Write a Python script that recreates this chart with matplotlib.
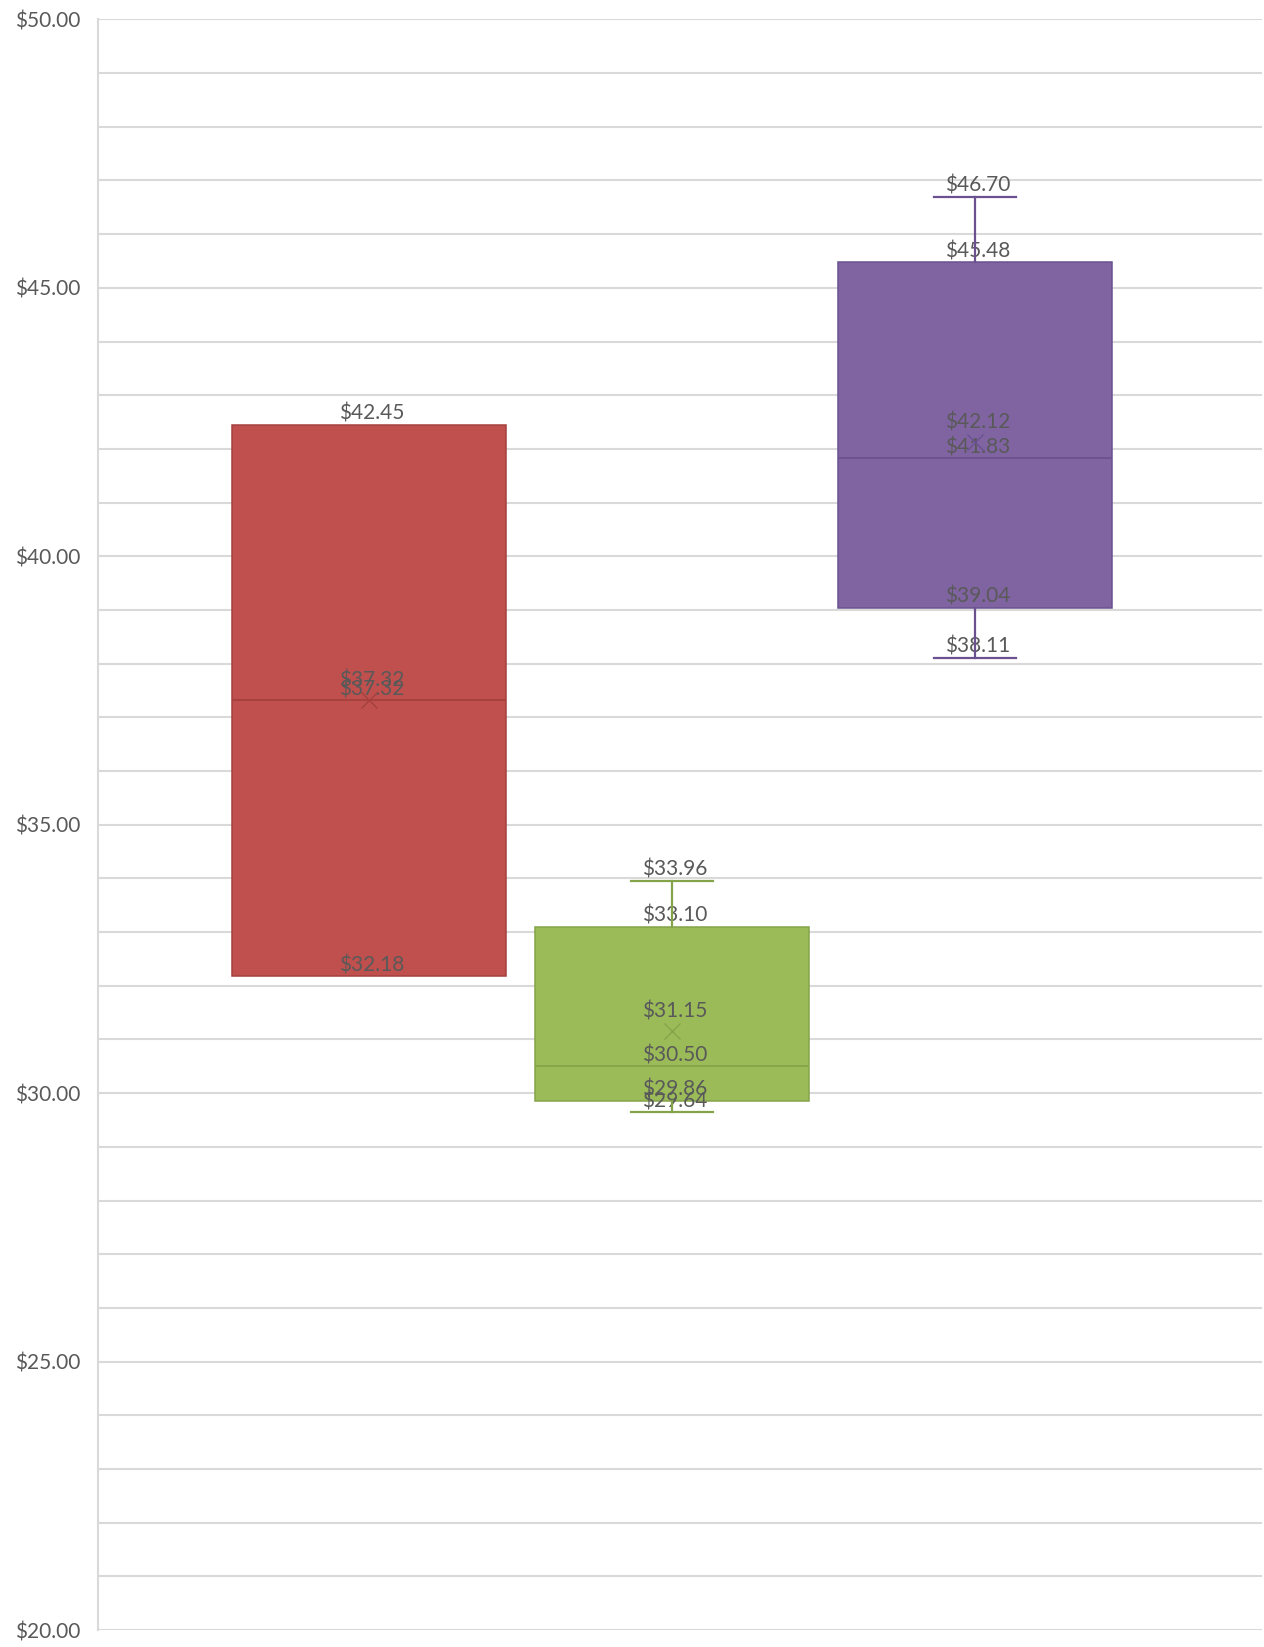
import numpy as np
from matplotlib import pyplot as plt
from matplotlib.ticker import MultipleLocator, FuncFormatter

## data
seriesNames = ['Series 1', 'Series 2', 'Series 3']
minVals = [32.18, 29.64, 38.11]
q1Vals = [32.18, 29.86, 39.04]
medVals = [37.32, 30.50, 41.83]
q3Vals = [42.45, 33.10, 45.48]
maxVals = [42.45, 33.96, 46.70]
meanVals = [37.32, 31.15, 42.12]

fillColors = ['#C0504D', '#9BBB59', '#8064A2']
edgeColors = ['#A5403D', '#85A34A', '#6B5190']
textColor = '#595959'

plt.rcParams['font.family'] = ['Lato', 'DejaVu Sans']

## figure
fig = plt.figure(figsize=(12.64, 16.47), dpi=100)
ax = fig.add_axes([0.0775, 0.0103, 0.9209, 0.9779])

positions = np.arange(len(seriesNames))
boxWidth = 0.904
capWidth = 0.27

stats = []
for ind in range(len(seriesNames)):
    stats.append(dict(label=seriesNames[ind], whislo=minVals[ind], q1=q1Vals[ind],
                      med=medVals[ind], q3=q3Vals[ind], whishi=maxVals[ind],
                      mean=meanVals[ind]))

for ind in range(len(seriesNames)):
    parts = ax.bxp([stats[ind]], positions=[positions[ind]], widths=boxWidth,
                   patch_artist=True, showmeans=True, showfliers=False,
                   capwidths=capWidth,
                   boxprops=dict(facecolor=fillColors[ind], edgecolor=edgeColors[ind],
                                 linewidth=1.1, zorder=2),
                   medianprops=dict(color=edgeColors[ind], linewidth=1.3, zorder=3),
                   whiskerprops=dict(color=edgeColors[ind], linewidth=1.6, zorder=4),
                   capprops=dict(color=edgeColors[ind], linewidth=1.6, zorder=4),
                   meanprops=dict(marker='x', markersize=11, markeredgecolor=edgeColors[ind],
                                  markeredgewidth=1.0, zorder=4))

    # no caps where the whisker has zero length
    if minVals[ind] == q1Vals[ind]:
        parts['caps'][0].set_visible(False)
    if maxVals[ind] == q3Vals[ind]:
        parts['caps'][1].set_visible(False)

    # value labels above each statistic (one label per distinct value)
    for val in sorted(set([minVals[ind], q1Vals[ind], medVals[ind], q3Vals[ind], maxVals[ind]])):
        ax.annotate('${:.2f}'.format(val), (positions[ind], val),
                    xytext=(3, 11), textcoords='offset pixels',
                    ha='center', va='center', fontsize=15, color=textColor, zorder=3)
    ax.annotate('${:.2f}'.format(meanVals[ind]), (positions[ind], meanVals[ind]),
                xytext=(3, 20), textcoords='offset pixels',
                ha='center', va='center', fontsize=15, color=textColor, zorder=3)

## axes styling
ax.set_ylim(20, 50)
ax.set_xlim(-0.894, 2.947)
ax.yaxis.set_major_locator(MultipleLocator(5))
ax.yaxis.set_minor_locator(MultipleLocator(1))
ax.yaxis.set_major_formatter(FuncFormatter(lambda v, p: '${:.2f}'.format(v)))
ax.grid(True, which='both', axis='y', color='#D9D9D9', linewidth=1.5, zorder=0)
ax.set_axisbelow(True)
ax.set_xticks([])
ax.tick_params(axis='y', which='both', length=0, pad=13, labelsize=15, labelcolor=textColor)
for side in ['top', 'right', 'bottom']:
    ax.spines[side].set_visible(False)
ax.spines['left'].set_color('#D9D9D9')
ax.spines['left'].set_linewidth(1.5)

fig.savefig('out.png', dpi=100)
